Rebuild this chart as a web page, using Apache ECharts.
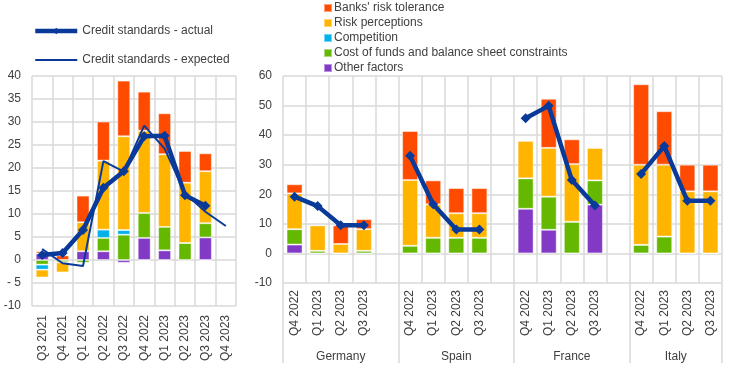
<!DOCTYPE html>
<html><head><meta charset="utf-8">
<script src="https://cdn.jsdelivr.net/npm/echarts@6/dist/echarts.min.js"></script>
<style>html,body{margin:0;padding:0;background:#fff}#c{width:744px;height:392px}</style>
</head><body><div id="c"></div>
<script>
// ---- Left panel: euro area ----
const leftCats = ['Q3 2021','Q4 2021','Q1 2022','Q2 2022','Q3 2022','Q4 2022','Q1 2023','Q2 2023','Q3 2023','Q4 2023'];
const leftOther = [1.4, 0, 1.9, 1.9, -0.6, 4.8, 2.1, 0, 4.9, null];
const leftCost  = [-1.0, -0.5, -0.6, 2.9, 5.5, 5.4, 5.1, 3.7, 3.1, null];
const leftComp  = [-1.1, 0, -0.2, 1.8, 1.0, -0.2, -0.2, 0, -0.2, null];
const leftRisk  = [-1.7, -2.2, 6.3, 15.0, 20.4, 17.9, 15.8, 13.1, 11.3, null];
const leftTol   = [0.5, 1.0, 5.8, 8.5, 12.1, 8.5, 8.9, 6.9, 3.9, null];
const leftActual   = [1.1, 1.5, 6.5, 15.7, 19.3, 26.9, 27.0, 14.1, 11.8, null];
const leftExpected = [2.4, -0.7, -1.3, 21.5, 19.2, 29.2, 24.2, 14.5, 10.5, 7.4];

// ---- Right panel: countries ----
const rightCats = ['Q4 2022','Q1 2023','Q2 2023','Q3 2023','',
                   'Q4 2022','Q1 2023','Q2 2023','Q3 2023','',
                   'Q4 2022','Q1 2023','Q2 2023','Q3 2023','',
                   'Q4 2022','Q1 2023','Q2 2023','Q3 2023'];
const countries = ['Germany','Spain','France','Italy'];
const rightOther = [3.0, 0, 0, 0, null,   0, 0, 0, 0, null,   15.1, 8.0, 0, 16.5, null,   0, 0, 0, 0];
const rightCost  = [5.2, 0.9, 0, 0.9, null,   2.6, 5.3, 5.3, 5.3, null,   10.3, 11.2, 10.7, 8.2, null,   2.9, 5.7, 0, 0];
const rightComp  = [0, 0, 0, 0, null,   0, 0, 0, 0, null,   0, 0, 0, 0, null,   0, 0, 0, 0];
const rightRisk  = [12.1, 8.6, 3.2, 7.3, null,   22.2, 11.3, 8.3, 8.3, null,   12.7, 16.5, 19.5, 11.0, null,   27.1, 24.3, 21.0, 21.0];
const rightTol   = [3.1, 0, 6.3, 3.4, null,   16.6, 8.1, 8.5, 8.5, null,   0, 16.6, 8.4, 0, null,   27.2, 18.1, 9.0, 9.0];
const rightActual= [19.2, 16.0, 9.5, 9.5, null,   33.0, 16.6, 8.1, 8.1, null,   45.7, 49.9, 24.8, 16.2, null,   26.9, 36.3, 17.8, 17.8];

const names = ["Banks' risk tolerance", 'Risk perceptions', 'Competition', 'Cost of funds and balance sheet constraints', 'Other factors'];
const colors = {tol:'#FF4B00', risk:'#FFB400', comp:'#00B1EA', cost:'#65B800', other:'#8139C6'};
const lineColor = '#0A3A99';
const FONT = 'Liberation Sans, Arial, sans-serif';
const TXT = '#404040';
const GRID = '#d9d9d9';

function bar(name, data, color, xi, yi, w) {
  return {type:'bar', name, data, stack:'s'+xi, xAxisIndex:xi, yAxisIndex:yi, barWidth:w,
    itemStyle:{color, borderColor:'rgba(255,255,255,0.45)', borderWidth:1}, silent:true, animation:false};
}

const chart = echarts.init(document.getElementById('c'), null, {renderer:'canvas'});
chart.setOption({
  animation:false,
  textStyle:{fontFamily:FONT},
  legend:[
    {left:28, top:20, orient:'vertical', itemWidth:42, itemHeight:8, itemGap:17,
     data:[
       {name:'Credit standards - actual', lineStyle:{width:4.5, color:lineColor}},
       {name:'Credit standards - expected', itemStyle:{opacity:0}, lineStyle:{width:2, color:lineColor}}
     ],
     textStyle:{color:TXT, fontSize:12, fontFamily:FONT}},
    {left:318, top:-3, orient:'vertical', itemWidth:8, itemHeight:8, itemGap:3, icon:'rect',
     data:names, textStyle:{color:TXT, fontSize:12, fontFamily:FONT, lineHeight:12, padding:[0,0,0,-3]}}
  ],
  grid:[
    {left:32, width:204, top:76, height:230},
    {left:283, width:439, top:76, height:207}
  ],
  xAxis:[
    {type:'category', gridIndex:0, data:leftCats, axisLine:{show:false, onZero:false}, axisTick:{show:false},
     splitLine:{show:true, lineStyle:{color:GRID, width:1.5}},
     axisLabel:{rotate:90, margin:9, color:TXT, fontSize:12, fontFamily:FONT, interval:0}},
    {type:'category', gridIndex:1, data:rightCats, axisLine:{show:false, onZero:false}, axisTick:{show:false},
     splitLine:{show:true, lineStyle:{color:GRID, width:1.5}},
     axisLabel:{rotate:90, margin:7, color:TXT, fontSize:12, fontFamily:FONT, interval:0}},
    {type:'value', gridIndex:1, min:0, max:19, position:'bottom', axisLine:{show:false, onZero:false},
     splitLine:{show:false},
     axisTick:{show:true, customValues:[0,5,10,15,19], length:80, lineStyle:{color:GRID, width:1.5}},
     axisLabel:{customValues:[2.5,7.5,12.5,17], margin:68, color:TXT, fontSize:12, fontFamily:FONT,
       formatter:function(v){ const m={2.5:0,7.5:1,12.5:2,17:3}; return countries[m[v]]; }}}
  ],
  yAxis:[
    {type:'value', gridIndex:0, min:-10, max:40, interval:5, axisLine:{show:false}, axisTick:{show:false},
     splitLine:{lineStyle:{color:GRID, width:1.5}},
     axisLabel:{color:TXT, fontSize:12, fontFamily:FONT, margin:11,
       formatter:function(v){return v<0 ? '-' + (Math.abs(v)<10 ? ' ' : '') + Math.abs(v) : String(v);}}},
    {type:'value', gridIndex:1, min:-10, max:60, interval:10, axisLine:{show:false}, axisTick:{show:false},
     splitLine:{lineStyle:{color:GRID, width:1.5}},
     axisLabel:{color:TXT, fontSize:12, fontFamily:FONT, margin:11,
       formatter:function(v){return v<0 ? '-'+Math.abs(v) : String(v);}}}
  ],
  series:[
    bar('Other factors', leftOther, colors.other, 0, 0, 13),
    bar('Cost of funds and balance sheet constraints', leftCost, colors.cost, 0, 0, 13),
    bar('Competition', leftComp, colors.comp, 0, 0, 13),
    bar('Risk perceptions', leftRisk, colors.risk, 0, 0, 13),
    bar("Banks' risk tolerance", leftTol, colors.tol, 0, 0, 13),
    {type:'line', name:'Credit standards - expected', data:leftExpected, xAxisIndex:0, yAxisIndex:0,
     showSymbol:false, lineStyle:{color:lineColor, width:2}, itemStyle:{color:lineColor}, z:5},
    {type:'line', name:'Credit standards - actual', data:leftActual, xAxisIndex:0, yAxisIndex:0,
     symbol:'diamond', symbolSize:10, lineStyle:{color:lineColor, width:4.5}, itemStyle:{color:lineColor}, z:6},
    bar('Other factors', rightOther, colors.other, 1, 1, 16),
    bar('Cost of funds and balance sheet constraints', rightCost, colors.cost, 1, 1, 16),
    bar('Competition', rightComp, colors.comp, 1, 1, 16),
    bar('Risk perceptions', rightRisk, colors.risk, 1, 1, 16),
    bar("Banks' risk tolerance", rightTol, colors.tol, 1, 1, 16),
    {type:'line', name:'Credit standards - actual', data:rightActual, xAxisIndex:1, yAxisIndex:1,
     symbol:'diamond', symbolSize:10, connectNulls:false, lineStyle:{color:lineColor, width:4.5}, itemStyle:{color:lineColor}, z:6}
  ]
});
</script></body></html>
